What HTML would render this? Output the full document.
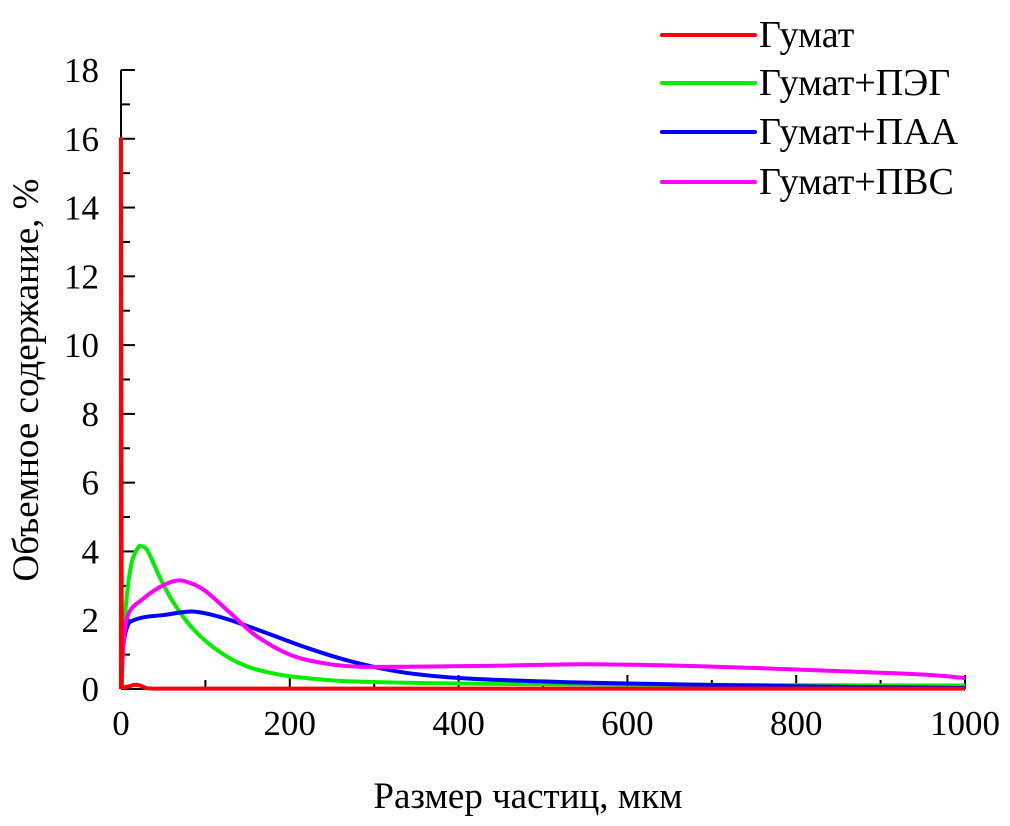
<!DOCTYPE html>
<html><head><meta charset="utf-8"><style>
body{margin:0;background:#fff}
svg{display:block}
svg text{font-family:"Liberation Serif","Times New Roman","Noto Serif CJK SC","DejaVu Serif",serif}
</style></head><body>
<svg id="chart" width="1010" height="826" viewBox="0 0 1010 826"></svg>
<script>
const xTicks=[0,200,400,600,800,1000];
const yTicks=[0,2,4,6,8,10,12,14,16,18];
const seriesNames=["Гумат","Гумат+ПЭГ","Гумат+ПАА","Гумат+ПВС"];
const seriesColors=["#ff0000","#00ee00","#0000ff","#ff00ff"];
const humX=[0,0,1,5,10,15,20,25,30,40,100,1000];
const humY=[0,16,0.05,0.05,0.08,0.12,0.12,0.08,0.02,0.01,0.01,0.01];
const pegX=[0,5,12,20,25,32,45,60,80,100,125,150,175,200,250,300,400,500,700,1000];
const pegY=[0,2.2,3.6,4.1,4.15,4.0,3.3,2.6,1.9,1.4,0.95,0.65,0.48,0.37,0.25,0.2,0.16,0.14,0.12,0.1];
const paaX=[0,3,8,15,30,50,80,100,130,170,220,270,330,400,500,600,800,1000];
const paaY=[0,1.3,1.85,2.0,2.1,2.15,2.25,2.2,2.0,1.65,1.2,0.82,0.5,0.32,0.22,0.16,0.08,0.03];
const pvsX=[0,4,10,25,45,65,80,100,130,160,200,240,280,350,450,560,700,850,950,1000];
const pvsY=[0,1.6,2.25,2.6,2.95,3.15,3.1,2.85,2.2,1.55,1.0,0.75,0.65,0.65,0.68,0.72,0.65,0.52,0.42,0.32];

const NS="http://www.w3.org/2000/svg";
const svg=document.getElementById('chart');
const X0=121,X1=965,Y0=689,Y1=70;
const sx=v=>X0+(v-0)/(1000-0)*(X1-X0);
const sy=v=>Y0-(v-0)/(18-0)*(Y0-Y1);
function mk(tag,attrs,parent){const e=document.createElementNS(NS,tag);for(const k in attrs)e.setAttribute(k,attrs[k]);(parent||svg).appendChild(e);return e;}

const axes=mk('g',{});


mk('line',{x1:X0,y1:Y1,x2:X0,y2:Y0,stroke:'#000','stroke-width':2},axes);
mk('line',{x1:X0,y1:Y0,x2:X1,y2:Y0,stroke:'#000','stroke-width':2},axes);
for(let v=0;v<=18;v+=1){const major=v%2===0;mk('line',{x1:X0,x2:X0+(major?14:9),y1:sy(v),y2:sy(v),stroke:'#000','stroke-width':2},axes);}
for(let v=0;v<=1000;v+=100){const major=v%200===0;mk('line',{x1:sx(v),x2:sx(v),y1:Y0,y2:Y0-(major?14:9),stroke:'#000','stroke-width':2},axes);}
yTicks.forEach(v=>{const t=mk('text',{x:X0-22,y:sy(v)+12,'text-anchor':'end','font-size':35},axes);t.textContent=v;

});
xTicks.forEach(v=>{const t=mk('text',{x:sx(v),y:735,'text-anchor':'middle','font-size':35},axes);t.textContent=v;

});
const xt=mk('text',{x:528,y:808,'text-anchor':'middle','font-size':37});xt.textContent='Размер частиц, мкм';


const yt=mk('text',{x:0,y:0,'text-anchor':'middle','font-size':37,transform:'translate(38,380) rotate(-90)'});yt.textContent='Объемное содержание, %';



const data=[[pegX,pegY],[paaX,paaY],[pvsX,pvsY],[humX,humY]];
const order=[1,2,3,0];
const names=['line-gumat-peg','line-gumat-paa','line-gumat-pvs','line-gumat'];
data.forEach((d,i)=>{
  const xs=d[0],ys=d[1];
  let p='M'+sx(xs[0])+','+sy(ys[0]);
  if(order[i]===0){for(let k=1;k<xs.length;k++)p+=' L'+sx(xs[k])+','+sy(ys[k]);}
  else{
    const pts=xs.map((x,k)=>[sx(x),sy(ys[k])]);
    for(let k=0;k<pts.length-1;k++){
      const p0=pts[Math.max(0,k-1)],p1=pts[k],p2=pts[k+1],p3=pts[Math.min(pts.length-1,k+2)];
      const c1=[p1[0]+(p2[0]-p0[0])/6,p1[1]+(p2[1]-p0[1])/6],c2=[p2[0]-(p3[0]-p1[0])/6,p2[1]-(p3[1]-p1[1])/6];
      p+=` C${c1[0]},${c1[1]} ${c2[0]},${c2[1]} ${p2[0]},${p2[1]}`;
    }
  }
  const path=mk('path',{d:p,fill:'none',stroke:seriesColors[order[i]],'stroke-width':4,'stroke-linejoin':'round'});
  
  
});

const legY=[35,83,132,182];
seriesNames.forEach((n,i)=>{
  const g=mk('g',{});
  
  
  mk('line',{x1:662,x2:755,y1:legY[i],y2:legY[i],stroke:seriesColors[i],'stroke-width':4,'stroke-linecap':'round'},g);
  const t=mk('text',{x:759,y:legY[i]+12,'font-size':38},g);t.textContent=n;
});
</script>
</body></html>
